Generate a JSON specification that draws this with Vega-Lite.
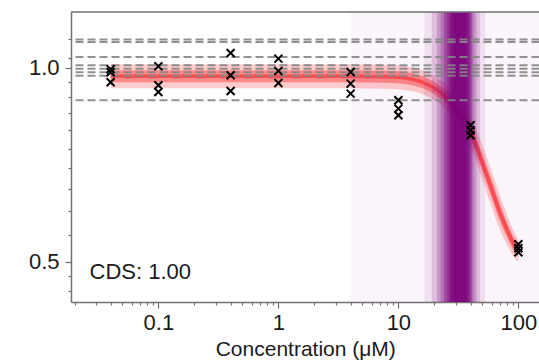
{
  "$schema": "https://vega.github.io/schema/vega-lite/v6.json",
  "width": 468.5,
  "height": 290,
  "autosize": {"type": "none"},
  "padding": {"left": 71, "top": 12, "right": 0, "bottom": 59},
  "background": "white",
  "config": {"view": {"stroke": null}, "font": "Liberation Sans"},
  "datasets": {
    "purple": [
      {"lo": 4, "hi": 150, "level": 1},
      {"lo": 16.5, "hi": 53, "level": 2},
      {"lo": 19, "hi": 48, "level": 3},
      {"lo": 21, "hi": 45, "level": 4},
      {"lo": 22.5, "hi": 42.5, "level": 5},
      {"lo": 24, "hi": 41, "level": 6},
      {"lo": 25.5, "hi": 40, "level": 7},
      {"lo": 27, "hi": 38.5, "level": 8},
      {"lo": 28.5, "hi": 36.5, "level": 9}
    ],
    "fit": [
      {"conc": 0.04, "mid": 0.97078, "lo1": 0.93003, "hi1": 1.01332, "lo2": 0.95018, "hi2": 0.99182},
      {"conc": 0.1, "mid": 0.97078, "lo1": 0.93003, "hi1": 1.01332, "lo2": 0.95018, "hi2": 0.99182},
      {"conc": 0.4, "mid": 0.97078, "lo1": 0.93003, "hi1": 1.01332, "lo2": 0.95018, "hi2": 0.99182},
      {"conc": 1, "mid": 0.97078, "lo1": 0.93003, "hi1": 1.01332, "lo2": 0.95018, "hi2": 0.99182},
      {"conc": 4, "mid": 0.97078, "lo1": 0.93003, "hi1": 1.01332, "lo2": 0.95018, "hi2": 0.99182},
      {"conc": 8, "mid": 0.96905, "lo1": 0.92837, "hi1": 1.01151, "lo2": 0.9485, "hi2": 0.99005},
      {"conc": 10, "mid": 0.96732, "lo1": 0.92671, "hi1": 1.00971, "lo2": 0.9468, "hi2": 0.98828},
      {"conc": 13, "mid": 0.96043, "lo1": 0.92011, "hi1": 1.00252, "lo2": 0.94006, "hi2": 0.98124},
      {"conc": 16, "mid": 0.95019, "lo1": 0.91031, "hi1": 0.99183, "lo2": 0.93003, "hi2": 0.9708},
      {"conc": 20, "mid": 0.93004, "lo1": 0.891, "hi1": 0.9708, "lo2": 0.9103, "hi2": 0.95019},
      {"conc": 25, "mid": 0.90061, "lo1": 0.8628, "hi1": 0.94008, "lo2": 0.8815, "hi2": 0.92013},
      {"conc": 30, "mid": 0.86282, "lo1": 0.82366, "hi1": 0.90384, "lo2": 0.84301, "hi2": 0.8831},
      {"conc": 35, "mid": 0.82661, "lo1": 0.78628, "hi1": 0.86901, "lo2": 0.80619, "hi2": 0.84754},
      {"conc": 40, "mid": 0.79476, "lo1": 0.75329, "hi1": 0.83851, "lo2": 0.77374, "hi2": 0.81635},
      {"conc": 50, "mid": 0.71395, "lo1": 0.67188, "hi1": 0.75866, "lo2": 0.6926, "hi2": 0.73596},
      {"conc": 60, "mid": 0.64831, "lo1": 0.60794, "hi1": 0.69137, "lo2": 0.62779, "hi2": 0.6695},
      {"conc": 70, "mid": 0.59719, "lo1": 0.562, "hi1": 0.63459, "lo2": 0.57933, "hi2": 0.6156},
      {"conc": 80, "mid": 0.56199, "lo1": 0.53266, "hi1": 0.59293, "lo2": 0.54713, "hi2": 0.57725},
      {"conc": 90, "mid": 0.53649, "lo1": 0.51214, "hi1": 0.56199, "lo2": 0.52417, "hi2": 0.5491},
      {"conc": 100, "mid": 0.51951, "lo1": 0.49949, "hi1": 0.54034, "lo2": 0.50941, "hi2": 0.52982}
    ],
    "refs": [
      {"ref": 1.1068}, {"ref": 1.0973}, {"ref": 1.0401}, {"ref": 1.0097},
      {"ref": 0.9972}, {"ref": 0.9848}, {"ref": 0.9725}, {"ref": 0.891}
    ],
    "pts": [
      {"conc": 0.04, "val": 0.9954}, {"conc": 0.04, "val": 0.9848}, {"conc": 0.04, "val": 0.9502},
      {"conc": 0.1, "val": 1.0061}, {"conc": 0.1, "val": 0.9401}, {"conc": 0.1, "val": 0.9178},
      {"conc": 0.4, "val": 1.0551}, {"conc": 0.4, "val": 0.9743}, {"conc": 0.4, "val": 0.9211},
      {"conc": 1, "val": 1.0342}, {"conc": 1, "val": 0.9893}, {"conc": 1, "val": 0.9478},
      {"conc": 4, "val": 0.9858}, {"conc": 4, "val": 0.9458}, {"conc": 4, "val": 0.9126},
      {"conc": 10, "val": 0.891}, {"conc": 10, "val": 0.865}, {"conc": 10, "val": 0.8445},
      {"conc": 40, "val": 0.8149}, {"conc": 40, "val": 0.8004}, {"conc": 40, "val": 0.7863},
      {"conc": 100, "val": 0.5327}, {"conc": 100, "val": 0.5251}, {"conc": 100, "val": 0.5177}
    ]
  },
  "layer": [
    {
      "data": {"name": "fit"},
      "mark": {"type": "area", "color": "#ff3535", "opacity": 0.25, "interpolate": "monotone"},
      "encoding": {
        "x": {
          "field": "conc", "type": "quantitative",
          "scale": {"type": "log", "domain": [0.0187, 150], "nice": false},
          "axis": {
            "values": [0.02, 0.03, 0.04, 0.05, 0.06, 0.07, 0.08, 0.09, 0.1, 0.2, 0.3, 0.4, 0.5, 0.6, 0.7, 0.8, 0.9, 1, 2, 3, 4, 5, 6, 7, 8, 9, 10, 20, 30, 40, 50, 60, 70, 80, 90, 100],
            "format": "~g",
            "labelExpr": "(datum.value == 0.1 || datum.value == 1 || datum.value == 10 || datum.value == 100) ? datum.label : ''",
            "tickSize": {"condition": {"test": "datum.value == 0.1 || datum.value == 1 || datum.value == 10 || datum.value == 100", "value": 6}, "value": 3},
            "title": "Concentration (μM)",
            "titleFont": "Liberation Sans", "titleFontSize": 21, "titleFontWeight": "normal", "titleColor": "#1a1a1a",
            "titleBaseline": "alphabetic", "titleY": 53,
            "labelFont": "Liberation Sans", "labelFontSize": 22, "labelColor": "#1a1a1a", "labelPadding": 4,
            "labelOverlap": false, "labelFlush": false, "labelBound": false,
            "domainColor": "#707070", "domainWidth": 1.5, "tickColor": "#707070", "tickWidth": 1.2, "grid": false
          }
        },
        "y": {
          "field": "lo1", "type": "quantitative",
          "scale": {"type": "log", "domain": [0.4334, 1.2215], "nice": false, "zero": false},
          "axis": {
            "values": [0.45, 0.475, 0.5, 0.55, 0.6, 0.65, 0.7, 0.75, 0.8, 0.85, 0.9, 0.95, 1, 1.035, 1.11],
            "labelExpr": "(datum.value == 0.5 || datum.value == 1) ? format(datum.value, '.1f') : ''",
            "tickSize": {"condition": {"test": "datum.value == 0.5 || datum.value == 1", "value": 6}, "value": 3},
            "title": null,
            "labelFont": "Liberation Sans", "labelFontSize": 22, "labelColor": "#1a1a1a", "labelPadding": 6,
            "labelOverlap": false, "labelFlush": false, "labelBound": false,
            "domainColor": "#707070", "domainWidth": 1.5, "tickColor": "#707070", "tickWidth": 1.2, "grid": false
          }
        },
        "y2": {"field": "hi1"}
      }
    },
    {
      "data": {"name": "fit"},
      "mark": {"type": "area", "color": "#ff3535", "opacity": 0.45, "interpolate": "monotone"},
      "encoding": {
        "x": {"field": "conc", "type": "quantitative"},
        "y": {"field": "lo2", "type": "quantitative"},
        "y2": {"field": "hi2"}
      }
    },
    {
      "data": {"name": "fit"},
      "mark": {"type": "line", "color": "#ff2a2a", "opacity": 0.6, "strokeWidth": 3.5, "interpolate": "monotone"},
      "encoding": {
        "x": {"field": "conc", "type": "quantitative"},
        "y": {"field": "mid", "type": "quantitative"}
      }
    },
    {
      "data": {"name": "purple"},
      "mark": {"type": "rect", "color": "#7a007a"},
      "encoding": {
        "x": {"field": "lo", "type": "quantitative"},
        "x2": {"field": "hi"},
        "opacity": {"field": "level", "type": "quantitative", "scale": {"type": "linear", "domain": [1, 2, 3, 4, 5, 6, 7, 8, 9], "range": [0.04, 0.083, 0.148, 0.2, 0.25, 0.333, 0.4, 0.556, 0.5]}, "legend": null}
      }
    },
    {
      "data": {"name": "refs"},
      "mark": {"type": "rule", "color": "#858585", "strokeWidth": 2, "strokeDash": [8, 4], "opacity": 0.9},
      "encoding": {
        "y": {"field": "ref", "type": "quantitative"}
      }
    },
    {
      "data": {"values": [{}]},
      "mark": {"type": "rule", "color": "#707070", "strokeWidth": 1.5},
      "encoding": {
        "y": {"datum": 1.2215, "type": "quantitative"}
      }
    },
    {
      "data": {"name": "pts"},
      "mark": {"type": "point", "shape": "M -1 -1 L 1 1 M -1 1 L 1 -1", "filled": false, "stroke": "#000000", "strokeWidth": 2, "size": 64, "opacity": 1},
      "encoding": {
        "x": {"field": "conc", "type": "quantitative"},
        "y": {"field": "val", "type": "quantitative"}
      }
    },
    {
      "data": {"values": [{"label": "CDS: 1.00"}]},
      "mark": {"type": "text", "align": "left", "baseline": "alphabetic", "font": "Liberation Sans", "fontSize": 22, "color": "#1a1a1a"},
      "encoding": {
        "x": {"datum": 0.0267, "type": "quantitative"},
        "y": {"datum": 0.4712, "type": "quantitative"},
        "text": {"field": "label"}
      }
    }
  ]
}
